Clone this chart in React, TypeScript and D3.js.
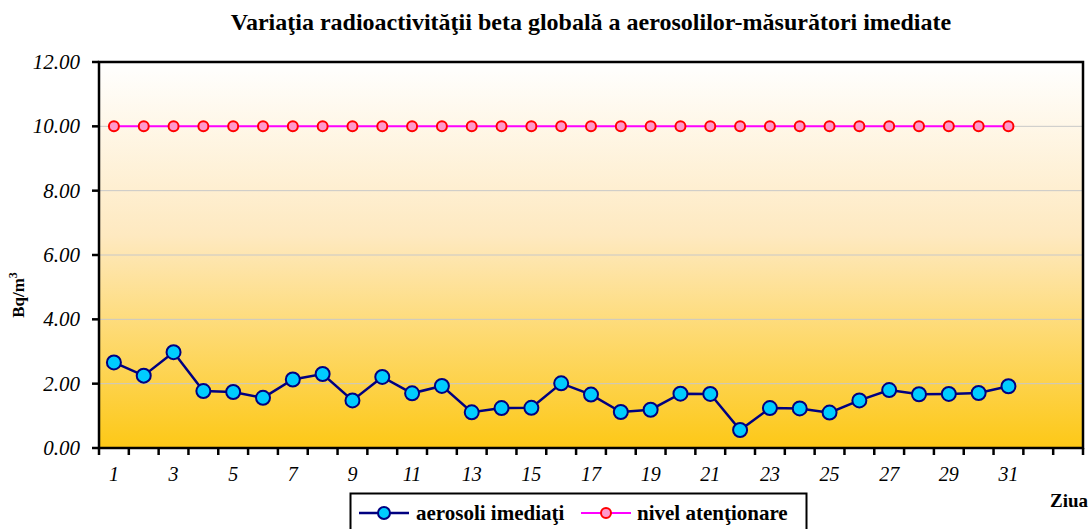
import * as d3 from "d3";

const days = [
  "1", "2", "3", "4", "5", "6", "7", "8", "9", "10", "11", "12", "13", "14", "15", "16",
  "17", "18", "19", "20", "21", "22", "23", "24", "25", "26", "27", "28", "29", "30", "31",
];
const slots = [...days, "32", "33"]; // excel leaves two empty categories at the end
const aerosoli = [
  2.66, 2.25, 2.98, 1.77, 1.74, 1.56, 2.13, 2.3, 1.48, 2.21, 1.7, 1.93, 1.11, 1.24, 1.25, 2.01,
  1.66, 1.12, 1.19, 1.69, 1.68, 0.56, 1.24, 1.23, 1.1, 1.48, 1.8, 1.67, 1.68, 1.71, 1.92,
];
const nivel = days.map(() => 10);
const yTicks = [0, 2, 4, 6, 8, 10, 12];

const W = 1092;
const H = 529;
const m = { left: 99, right: 1083, top: 62, bottom: 448 };
const font = "Liberation Serif, DejaVu Serif";

const App = () => {
  const x = d3.scaleBand().domain(slots).range([m.left, m.right]);
  const y = d3.scaleLinear().domain([0, 12]).range([m.bottom, m.top]);
  const cx = (d: string) => (x(d) ?? 0) + x.bandwidth() / 2;

  const line = d3
    .line<number>()
    .x((_, i) => cx(days[i]))
    .y((v) => y(v));

  return (
    <svg
      width={W}
      height={H}
      style={{ display: "block", position: "absolute", left: 0, top: 0, fontFamily: font }}
    >
      <defs>
        <linearGradient id="bg" x1="0" y1="0" x2="0" y2="1">
          <stop offset="0" stopColor="#ffffff" />
          <stop offset="0.45" stopColor="#fee9c0" />
          <stop offset="1" stopColor="#fdc816" />
        </linearGradient>
      </defs>
      <rect width={W} height={H} fill="#fff" />
      <text x={591} y={30} textAnchor="middle" fontWeight="bold" fontSize={24}>
        Variaţia radioactivităţii beta globală a aerosolilor-măsurători imediate
      </text>

      <rect x={m.left} y={m.top} width={m.right - m.left} height={m.bottom - m.top} fill="url(#bg)" />
      {yTicks.slice(1, -1).map((t) => (
        <line key={t} x1={m.left} x2={m.right} y1={y(t)} y2={y(t)} stroke="#c8c8c8" strokeWidth={1} />
      ))}
      <rect
        x={m.left}
        y={m.top}
        width={m.right - m.left}
        height={m.bottom - m.top}
        fill="none"
        stroke="#000"
        strokeWidth={2.5}
      />

      {yTicks.map((t) => (
        <g key={t}>
          <line x1={m.left - 7} x2={m.left} y1={y(t)} y2={y(t)} stroke="#000" strokeWidth={2.5} />
          <text x={m.left - 19} y={y(t) + 7} textAnchor="end" fontStyle="italic" fontSize={21}>
            {t.toFixed(2)}
          </text>
        </g>
      ))}

      {slots.map((d) => (
        <line
          key={d}
          x1={x(d) ?? 0}
          x2={x(d) ?? 0}
          y1={m.bottom}
          y2={m.bottom + 7}
          stroke="#000"
          strokeWidth={2.5}
        />
      ))}
      <line x1={m.right} x2={m.right} y1={m.bottom} y2={m.bottom + 7} stroke="#000" strokeWidth={2.5} />
      {days
        .filter((_, i) => i % 2 === 0)
        .map((d) => (
          <text key={d} x={cx(d)} y={481} textAnchor="middle" fontStyle="italic" fontSize={20}>
            {d}
          </text>
        ))}

      <text
        transform={`translate(24, 295) rotate(-90)`}
        textAnchor="middle"
        fontWeight="bold"
        fontSize={17}
      >
        Bq/m<tspan dy={-7} fontSize={12}>3</tspan>
      </text>
      <text x={1069} y={507} textAnchor="middle" fontWeight="bold" fontSize={19}>
        Ziua
      </text>

      <path d={line(nivel) ?? ""} fill="none" stroke="#ff00ff" strokeWidth={2} />
      {nivel.map((v, i) => (
        <circle key={i} cx={cx(days[i])} cy={y(v)} r={5} fill="#ff99cc" stroke="#ff0000" strokeWidth={2} />
      ))}
      <path d={line(aerosoli) ?? ""} fill="none" stroke="#000080" strokeWidth={2.5} />
      {aerosoli.map((v, i) => (
        <circle key={i} cx={cx(days[i])} cy={y(v)} r={7} fill="#00ccff" stroke="#000080" strokeWidth={2} />
      ))}

      <rect x={350.5} y={493.5} width={456} height={40} fill="#fff" stroke="#000" strokeWidth={2} />
      <line x1={359} x2={409} y1={513} y2={513} stroke="#000080" strokeWidth={2.5} />
      <circle cx={384} cy={513} r={6} fill="#00ccff" stroke="#000080" strokeWidth={2} />
      <text x={416} y={520} fontWeight="bold" fontSize={21}>
        aerosoli imediaţi
      </text>
      <line x1={581} x2={631} y1={513} y2={513} stroke="#ff00ff" strokeWidth={2} />
      <circle cx={606} cy={513} r={5} fill="#ff99cc" stroke="#ff0000" strokeWidth={2} />
      <text x={637} y={520} fontWeight="bold" fontSize={21}>
        nivel atenţionare
      </text>
    </svg>
  );
};

export default App;
